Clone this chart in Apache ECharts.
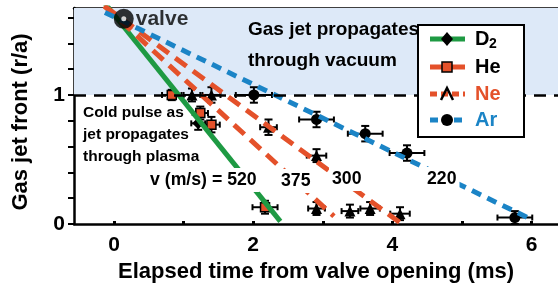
<!DOCTYPE html>
<html>
<head>
<meta charset="utf-8">
<script src="https://cdn.jsdelivr.net/npm/echarts@6/dist/echarts.min.js"></script>
<style>
  html, body { margin: 0; padding: 0; background: #fff; }
  #chart { width: 558px; height: 285px; }
</style>
</head>
<body>
<div id="chart"></div>
<script>
// axis ticks / labels
const xTicks = [0, 1, 2, 3, 4, 5, 6];
const xLabels = [0, 2, 4, 6];
const yTicks = [0, 0.2, 0.4, 0.6, 0.8, 1.0, 1.2, 1.4, 1.6];
const yLabels = [0, 1];
const xMin = -0.575, xMax = 6.38;
const yMin = 0, yMax = 1.674;
const boundary = 1; // r/a = 1, plasma edge

// measured fronts: [time ms, r/a, time err, r/a err]
const d2Points = [[1.21, 0.78, 0.10, 0.05]];
const hePoints = [[0.83, 1.00, 0.14, 0.04], [1.24, 0.86, 0.11, 0.05], [1.40, 0.77, 0.12, 0.06], [2.17, 0.13, 0.18, 0.05]];
const nePoints = [[1.12, 1.00, 0.12, 0.05], [1.40, 1.00, 0.13, 0.06], [2.22, 0.75, 0.12, 0.06], [2.91, 0.53, 0.14, 0.05],
                  [2.91, 0.12, 0.12, 0.05], [3.39, 0.10, 0.12, 0.05], [3.68, 0.12, 0.14, 0.05], [4.11, 0.08, 0.14, 0.05]];
const arPoints = [[2.01, 1.00, 0.26, 0.06], [2.91, 0.81, 0.25, 0.06], [3.61, 0.70, 0.25, 0.06], [4.21, 0.55, 0.25, 0.06], [5.76, 0.05, 0.25, 0.05]];
const valvePoint = [[0.14, 1.59]];

// straight-line fits (end points)
const d2Fit = [[-0.13, 1.71], [2.39, 0.02]];
const heFit = [[-0.14, 1.69], [3.16, 0.06]];
const neFit = [[-0.14, 1.69], [4.11, 0.01]];
const arFit = [[-0.13, 1.64], [5.98, 0.04]];
const speeds = ["520", "375", "300", "220"];

const GREEN = "#1e9a43";
const RED = "#e4512a";
const BLUE = "#1b84c6";
const SHADE = "#dde9f8";
const FF = '"Liberation Sans", Arial, sans-serif';
const font = (s) => "bold " + s + "px " + FF;

function errorBars(params, api) {
  const x = api.value(0), y = api.value(1), ex = api.value(2), ey = api.value(3);
  const l = api.coord([x - ex, y]);
  const r = api.coord([x + ex, y]);
  const t = api.coord([x, y + ey]);
  const b = api.coord([x, y - ey]);
  const style = { stroke: "#000", lineWidth: 2 };
  const seg = (x1, y1, x2, y2) => ({ type: "line", shape: { x1, y1, x2, y2 }, style });
  return {
    type: "group",
    children: [
      seg(l[0], l[1], r[0], r[1]),
      seg(t[0], t[1], b[0], b[1]),
      seg(l[0], l[1] - 3, l[0], l[1] + 3),
      seg(r[0], r[1] - 3, r[0], r[1] + 3),
      seg(t[0] - 4, t[1], t[0] + 4, t[1]),
      seg(b[0] - 4, b[1], b[0] + 4, b[1]),
    ],
  };
}

function fitLine(data, color, type) {
  return {
    type: "line",
    data: data,
    symbol: "none",
    z: 4,
    silent: true,
    lineStyle: { color: color, width: 5, type: type },
  };
}

function markers(points, symbol, size, fill, border) {
  return {
    type: "scatter",
    data: points.map((p) => [p[0], p[1]]),
    symbol: symbol,
    symbolSize: size,
    z: 3,
    itemStyle: { color: fill, borderColor: "#000", borderWidth: border, opacity: 1 },
  };
}

// legend drawn as a small graphic box (offsets from its top-left corner)
const LX = 418, LY = 25;
const legendRows = [
  { y: 14, color: GREEN, dash: null, sym: "diamond", text: "D", textColor: "#000" },
  { y: 42, color: RED, dash: null, sym: "square", text: "He", textColor: "#000" },
  { y: 69, color: RED, dash: [7, 4], sym: "triangle", text: "Ne", textColor: RED },
  { y: 95, color: BLUE, dash: [8, 4], sym: "circle", text: "Ar", textColor: BLUE },
];
function legendSymbol(row) {
  const cx = LX + 29, cy = LY + row.y;
  if (row.sym === "diamond")
    return { type: "polygon", z: 62, shape: { points: [[cx, cy - 7], [cx + 6, cy], [cx, cy + 7], [cx - 6, cy]] }, style: { fill: "#000" } };
  if (row.sym === "square")
    return { type: "rect", z: 62, shape: { x: cx - 5, y: cy - 5, width: 10, height: 10 }, style: { fill: RED, stroke: "#000", lineWidth: 1.5 } };
  if (row.sym === "triangle")
    return { type: "polyline", z: 62, shape: { points: [[cx - 6, cy + 6], [cx, cy - 6], [cx + 6, cy + 6]] }, style: { stroke: "#000", lineWidth: 2.5, fill: null } };
  return { type: "circle", z: 62, shape: { cx: cx, cy: cy, r: 6 }, style: { fill: "#000" } };
}
const legendItems = [
  { type: "rect", z: 60, shape: { x: LX, y: LY, width: 106, height: 112 }, style: { fill: "#fff", stroke: "#000", lineWidth: 2 } },
];
legendRows.forEach((row) => {
  legendItems.push({
    type: "line",
    z: 61,
    shape: { x1: LX + 12, y1: LY + row.y, x2: LX + 47, y2: LY + row.y },
    style: { stroke: row.color, lineWidth: 5, lineDash: row.dash },
  });
  legendItems.push(legendSymbol(row));
  legendItems.push({
    type: "text",
    z: 62,
    style: { text: row.text, x: LX + 57, y: LY + row.y, verticalAlign: "middle", font: font(20), fill: row.textColor },
  });
});
legendItems.push({
  type: "text",
  z: 62,
  style: { text: "2", x: LX + 71, y: LY + 19, verticalAlign: "middle", font: font(14), fill: "#000" },
});

function note(text, x, y, size, bg) {
  return {
    type: "text",
    z: 50,
    style: {
      text: text, x: x, y: y, verticalAlign: "middle", font: font(size), fill: "#000",
      backgroundColor: bg ? "#fff" : null, padding: bg ? [3, 3] : 0,
    },
  };
}

const chart = echarts.init(document.getElementById("chart"));
const option = {
  animation: false,
  backgroundColor: "#fff",
  grid: { left: 74, right: 0, top: 8, bottom: 61, containLabel: false, outerBoundsMode: "none" },
  xAxis: [
    {
      type: "value",
      min: xMin,
      max: xMax,
      name: "Elapsed time from valve opening (ms)",
      nameLocation: "middle",
      nameGap: 37,
      nameTextStyle: { fontFamily: FF, fontWeight: "bold", fontSize: 22, color: "#000" },
      axisLine: { show: true, onZero: false, lineStyle: { color: "#000", width: 2.5 } },
      axisTick: { show: true, inside: true, length: 3, customValues: xTicks, lineStyle: { color: "#000", width: 3 } },
      axisLabel: { customValues: xLabels, margin: 11, fontFamily: FF, fontWeight: "bold", fontSize: 21, color: "#000" },
      splitLine: { show: false },
    },
    {
      type: "value",
      position: "top",
      min: xMin,
      max: xMax,
      axisLine: { show: true, onZero: false, lineStyle: { color: "#000", width: 2.5 } },
      axisTick: { show: false },
      axisLabel: { show: false },
      splitLine: { show: false },
    },
  ],
  yAxis: {
    type: "value",
    min: yMin,
    max: yMax,
    name: "Gas jet front (r/a)",
    nameLocation: "middle",
    nameGap: 42,
    nameTextStyle: { fontFamily: FF, fontWeight: "bold", fontSize: 22, color: "#000", padding: [0, 12, 0, 0] },
    axisLine: { show: true, onZero: false, lineStyle: { color: "#000", width: 2.5 } },
    axisTick: { show: true, length: 6, customValues: yTicks, lineStyle: { color: "#000", width: 2 } },
    axisLabel: { customValues: yLabels, margin: 9, fontFamily: FF, fontWeight: "bold", fontSize: 21, color: "#000" },
    splitLine: { show: false },
  },
  series: [
    {
      type: "line",
      data: [],
      z: 1,
      silent: true,
      markArea: {
        silent: true,
        itemStyle: { color: SHADE },
        data: [[{ yAxis: boundary }, { yAxis: yMax }]],
      },
      markLine: {
        silent: true,
        symbol: "none",
        label: { show: false },
        lineStyle: { color: "#000", width: 2.5, type: [12, 8] },
        data: [{ yAxis: boundary }],
      },
    },
    {
      type: "custom",
      renderItem: errorBars,
      encode: { x: 0, y: 1 },
      z: 3,
      silent: true,
      data: [...d2Points, ...hePoints, ...nePoints, ...arPoints],
    },
    markers(nePoints, "triangle", 11, "#000", 0),
    markers(arPoints, "circle", 11, "#000", 0),
    markers(d2Points, "diamond", 12, "#000", 0),
    markers(hePoints, "rect", 9, RED, 1.5),
    fitLine(d2Fit, GREEN, "solid"),
    fitLine(heFit, RED, [14, 8]),
    fitLine(neFit, RED, [14, 8]),
    fitLine(arFit, BLUE, [10, 7]),
    {
      type: "scatter",
      data: valvePoint,
      symbol: "circle",
      symbolSize: 20,
      z: 6,
      itemStyle: { color: "#000" },
      label: { show: true, position: "right", distance: 2, formatter: "valve", fontFamily: FF, fontWeight: "bold", fontSize: 21, color: "#000" },
    },
    {
      type: "scatter",
      data: valvePoint,
      symbol: "circle",
      symbolSize: 5,
      z: 7,
      itemStyle: { color: "#fff" },
    },
  ],
  graphic: [
    ...legendItems,
    note("Gas jet propagates", 248, 30, 19, false),
    note("through vacuum", 248, 61, 19, false),
    note("Cold pulse as", 83, 113, 15.5, false),
    note("jet propagates", 83, 135, 15.5, false),
    note("through plasma", 83, 157, 15.5, false),
    note("v (m/s) = " + speeds[0], 147, 180, 17.7, true),
    note(speeds[1], 278, 181, 17.7, true),
    note(speeds[2], 329, 179, 17.7, true),
    note(speeds[3], 424, 179, 17.7, true),
  ],
};
chart.setOption(option);
</script>
</body>
</html>
